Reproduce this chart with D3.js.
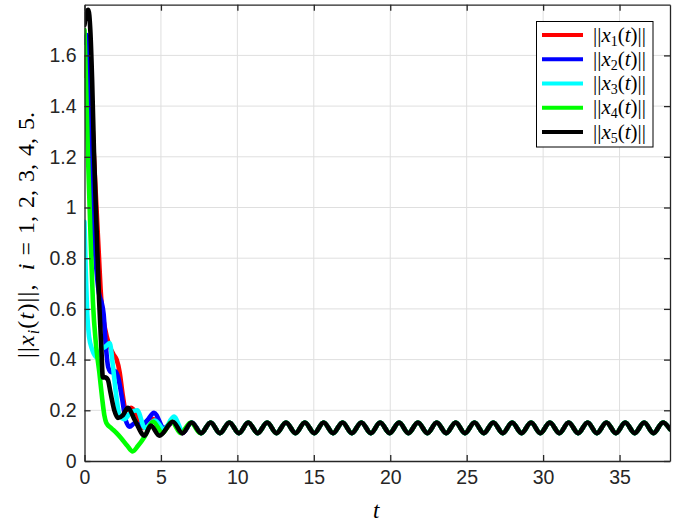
<!DOCTYPE html>
<html><head><meta charset="utf-8">
<script src="https://cdn.jsdelivr.net/npm/d3@7/dist/d3.min.js"></script>
<style>body{margin:0;background:#fff}</style>
</head><body>
<svg id="c" width="680" height="523" xmlns="http://www.w3.org/2000/svg"></svg>
<script>
// ---------------- data ----------------
const xTicks = [0, 5, 10, 15, 20, 25, 30, 35];
const xTickLabels = ["0", "5", "10", "15", "20", "25", "30", "35"];
const yTicks = [0, 0.2, 0.4, 0.6, 0.8, 1, 1.2, 1.4, 1.6];
const yTickLabels = ["0", "0.2", "0.4", "0.6", "0.8", "1", "1.2", "1.4", "1.6"];
const seriesSubs = ["1", "2", "3", "4", "5"];
const seriesColors = ["#ff0000", "#0000ff", "#00ffff", "#00ff00", "#000000"];
const yLabelIndices = ["1,", "2,", "3,", "4,", "5."];

// transient parts, [t, ||x_i(t)||]
const x1 = [[0,1.52],[0.15,1.6],[0.3,1.56],[0.45,1.42],[0.6,1.22],[0.8,0.98],[0.95,0.8],[1.05,0.68],[1.15,0.6],[1.35,0.52],[1.6,0.46],[1.9,0.42],[2.1,0.4],[2.3,0.35],[2.5,0.26],[2.7,0.2],[3.05,0.21],[3.45,0.18],[3.85,0.13],[4.5,0.165],[5.15,0.12],[5.78,0.152],[6.4,0.11]];
const x2 = [[0,1.65],[0.15,1.68],[0.3,1.45],[0.45,1.15],[0.62,0.9],[0.8,0.74],[0.95,0.66],[1.1,0.63],[1.25,0.58],[1.4,0.45],[1.55,0.37],[1.75,0.35],[2.0,0.355],[2.2,0.33],[2.45,0.25],[2.7,0.16],[2.95,0.135],[3.3,0.15],[3.7,0.14],[4.1,0.16],[4.55,0.19],[5.2,0.13],[5.78,0.152],[6.4,0.11]];
const x3 = [[0,0.944],[0.08,0.75],[0.18,0.58],[0.3,0.49],[0.5,0.44],[0.8,0.41],[1.1,0.44],[1.35,0.45],[1.65,0.465],[1.85,0.38],[2.05,0.27],[2.3,0.18],[2.6,0.165],[3.0,0.19],[3.45,0.2],[3.95,0.13],[4.6,0.16],[5.2,0.125],[5.85,0.175],[6.45,0.115]];
const x4 = [[0,1.7],[0.12,1.45],[0.23,1.2],[0.4,0.88],[0.55,0.63],[0.75,0.46],[0.97,0.35],[1.15,0.25],[1.3,0.18],[1.43,0.15],[1.75,0.13],[2.1,0.11],[2.4,0.09],[2.8,0.06],[3.15,0.038],[3.5,0.06],[3.93,0.096],[4.5,0.155],[5.1,0.11],[5.7,0.155],[6.3,0.11],[6.95,0.152],[7.58,0.11]];
const x5 = [[0,1.72],[0.12,1.77],[0.25,1.78],[0.38,1.7],[0.5,1.5],[0.62,1.22],[0.8,0.9],[0.95,0.64],[1.1,0.45],[1.2,0.33],[1.35,0.33],[1.53,0.32],[1.7,0.27],[1.95,0.2],[2.19,0.17],[2.5,0.18],[2.84,0.21],[3.3,0.16],[3.93,0.1],[4.33,0.14],[4.9,0.1],[5.78,0.155],[6.4,0.11]];

// common steady-state oscillation (peaks and troughs)
const steady = [[7.01,0.152],[7.63,0.11],[8.25,0.152],[8.86,0.11],[9.48,0.152],[10.1,0.11],[10.71,0.152],[11.33,0.11],[11.95,0.152],[12.56,0.11],[13.18,0.152],[13.8,0.11],[14.41,0.152],[15.03,0.11],[15.64,0.152],[16.26,0.11],[16.88,0.152],[17.49,0.11],[18.11,0.152],[18.73,0.11],[19.34,0.152],[19.96,0.11],[20.58,0.152],[21.19,0.11],[21.81,0.152],[22.43,0.11],[23.04,0.152],[23.66,0.11],[24.28,0.152],[24.89,0.11],[25.51,0.152],[26.12,0.11],[26.74,0.152],[27.36,0.11],[27.97,0.152],[28.59,0.11],[29.21,0.152],[29.82,0.11],[30.44,0.152],[31.06,0.11],[31.67,0.152],[32.29,0.11],[32.91,0.152],[33.52,0.11],[34.14,0.152],[34.76,0.11],[35.37,0.152],[35.99,0.11],[36.61,0.152],[37.22,0.11],[37.84,0.152],[38.3,0.125]];

const xDomain = [0, 38.3];
const yDomain = [0, 1.8];

// ---------------- drawing ----------------
const svg = d3.select("#c");
const L = 84.5, R = 670, T = 4.7, B = 461;
const x = d3.scaleLinear().domain(xDomain).range([L, R]);
const y = d3.scaleLinear().domain(yDomain).range([B, T]);
const axisCol = "#262626", gridCol = "#dfdfdf";
const tickFont = "'Liberation Sans', Arial, Helvetica, sans-serif";
const mathFont = "'Liberation Serif', 'Times New Roman', serif";

svg.append("rect").attr("width", 680).attr("height", 523).attr("fill", "#fff");

// grid
const grid = svg.append("g");
grid.selectAll("line.gx").data(xTicks.filter(d => d > 0)).join("line")
  .attr("x1", d => x(d)).attr("x2", d => x(d)).attr("y1", T).attr("y2", B)
  .attr("stroke", gridCol).attr("stroke-width", 1);
grid.selectAll("line.gy").data(yTicks.filter(d => d > 0)).join("line")
  .attr("x1", L).attr("x2", R).attr("y1", d => y(d)).attr("y2", d => y(d))
  .attr("stroke", gridCol).attr("stroke-width", 1);

// lines
svg.append("defs").append("clipPath").attr("id", "clip")
  .append("rect").attr("x", L).attr("y", T).attr("width", R - L).attr("height", B - T);
const line = d3.line().x(d => x(d[0])).y(d => y(d[1])).curve(d3.curveMonotoneX);
const allSeries = [x1, x2, x3, x4, x5].map(s => {
  const last = s[s.length - 1][0];
  return s.concat(steady.filter(d => d[0] > last));
});
svg.append("g").attr("clip-path", "url(#clip)")
  .selectAll("path").data(allSeries).join("path")
  .attr("d", line).attr("fill", "none")
  .attr("stroke", (d, i) => seriesColors[i]).attr("stroke-width", 4.6)
  .attr("stroke-linejoin", "round").attr("stroke-linecap", "round");

// axes
const tk = 6;
const ax = svg.append("g").attr("transform", `translate(0,${B})`)
  .call(d3.axisBottom(x).tickValues(xTicks).tickFormat((d, i) => xTickLabels[i]).tickSize(-tk).tickSizeOuter(0).tickPadding(9));
const axT = svg.append("g").attr("transform", `translate(0,${T})`)
  .call(d3.axisTop(x).tickValues(xTicks).tickFormat("").tickSize(-tk).tickSizeOuter(0));
const ay = svg.append("g").attr("transform", `translate(${L},0)`)
  .call(d3.axisLeft(y).tickValues(yTicks).tickFormat((d, i) => yTickLabels[i]).tickSize(-tk).tickSizeOuter(0).tickPadding(8));
const ayR = svg.append("g").attr("transform", `translate(${R},0)`)
  .call(d3.axisRight(y).tickValues(yTicks).tickFormat("").tickSize(-tk).tickSizeOuter(0));
[ax, axT, ay, ayR].forEach(g => {
  g.attr("font-family", tickFont).attr("font-size", 19.5);
  g.selectAll("path.domain").attr("stroke", axisCol).attr("stroke-width", 1.3);
  g.selectAll(".tick line").attr("stroke", axisCol).attr("stroke-width", 1.3);
  g.selectAll(".tick text").attr("fill", "#262626");
});

// x label
svg.append("text").attr("x", (L + R) / 2 - 1).attr("y", 518)
  .attr("text-anchor", "middle").attr("font-family", mathFont)
  .attr("font-style", "italic").attr("font-size", 23).text("t");

// y label: ||x_i(t)||,  i = 1, 2, 3, 4, 5.
const yl = svg.append("text")
  .attr("transform", `translate(34,230) rotate(-90)`)
  .attr("x", -128).attr("text-anchor", "start")
  .attr("font-family", mathFont).attr("font-size", 24);
const g1 = yl.append("tspan").attr("letter-spacing", 1.2);
yl.append("tspan").attr("letter-spacing", 1.2).text("||");
yl.append("tspan").attr("font-style", "italic").attr("letter-spacing", 1.2).text("x");
yl.append("tspan").attr("font-style", "italic").attr("font-size", 16).attr("dy", 5).text("i");
yl.append("tspan").attr("dy", -5).attr("dx", 1).attr("letter-spacing", 1.2).text("(");
yl.append("tspan").attr("font-style", "italic").attr("letter-spacing", 1.2).text("t");
yl.append("tspan").attr("letter-spacing", 1.2).text(")||,");
yl.append("tspan").attr("font-style", "italic").attr("dx", 13).text("i");
yl.append("tspan").attr("dx", 8).text("=");
yLabelIndices.forEach((s, i) => {
  yl.append("tspan").attr("dx", i === 0 ? 8 : 8).text(s);
});

// legend
const lg = svg.append("g");
lg.append("rect").attr("x", 536.5).attr("y", 21.5).attr("width", 116.5).attr("height", 125.5)
  .attr("fill", "#fff").attr("stroke", "#000").attr("stroke-width", 1);
const rowY = d3.scaleLinear().domain([0, 4]).range([35, 132]);
seriesSubs.forEach((s, i) => {
  const yy = rowY(i);
  lg.append("line").attr("x1", 542).attr("x2", 583).attr("y1", yy).attr("y2", yy)
    .attr("stroke", seriesColors[i]).attr("stroke-width", 4.2);
  const t = lg.append("text").attr("x", 593).attr("y", yy + 6.5)
    .attr("font-family", mathFont).attr("font-size", 21);
  t.append("tspan").text("||");
  t.append("tspan").attr("font-style", "italic").text("x");
  t.append("tspan").attr("font-size", 14).attr("dy", 4).text(s);
  t.append("tspan").attr("dy", -4).text("(");
  t.append("tspan").attr("font-style", "italic").text("t");
  t.append("tspan").text(")||");
});
</script>
</body></html>
